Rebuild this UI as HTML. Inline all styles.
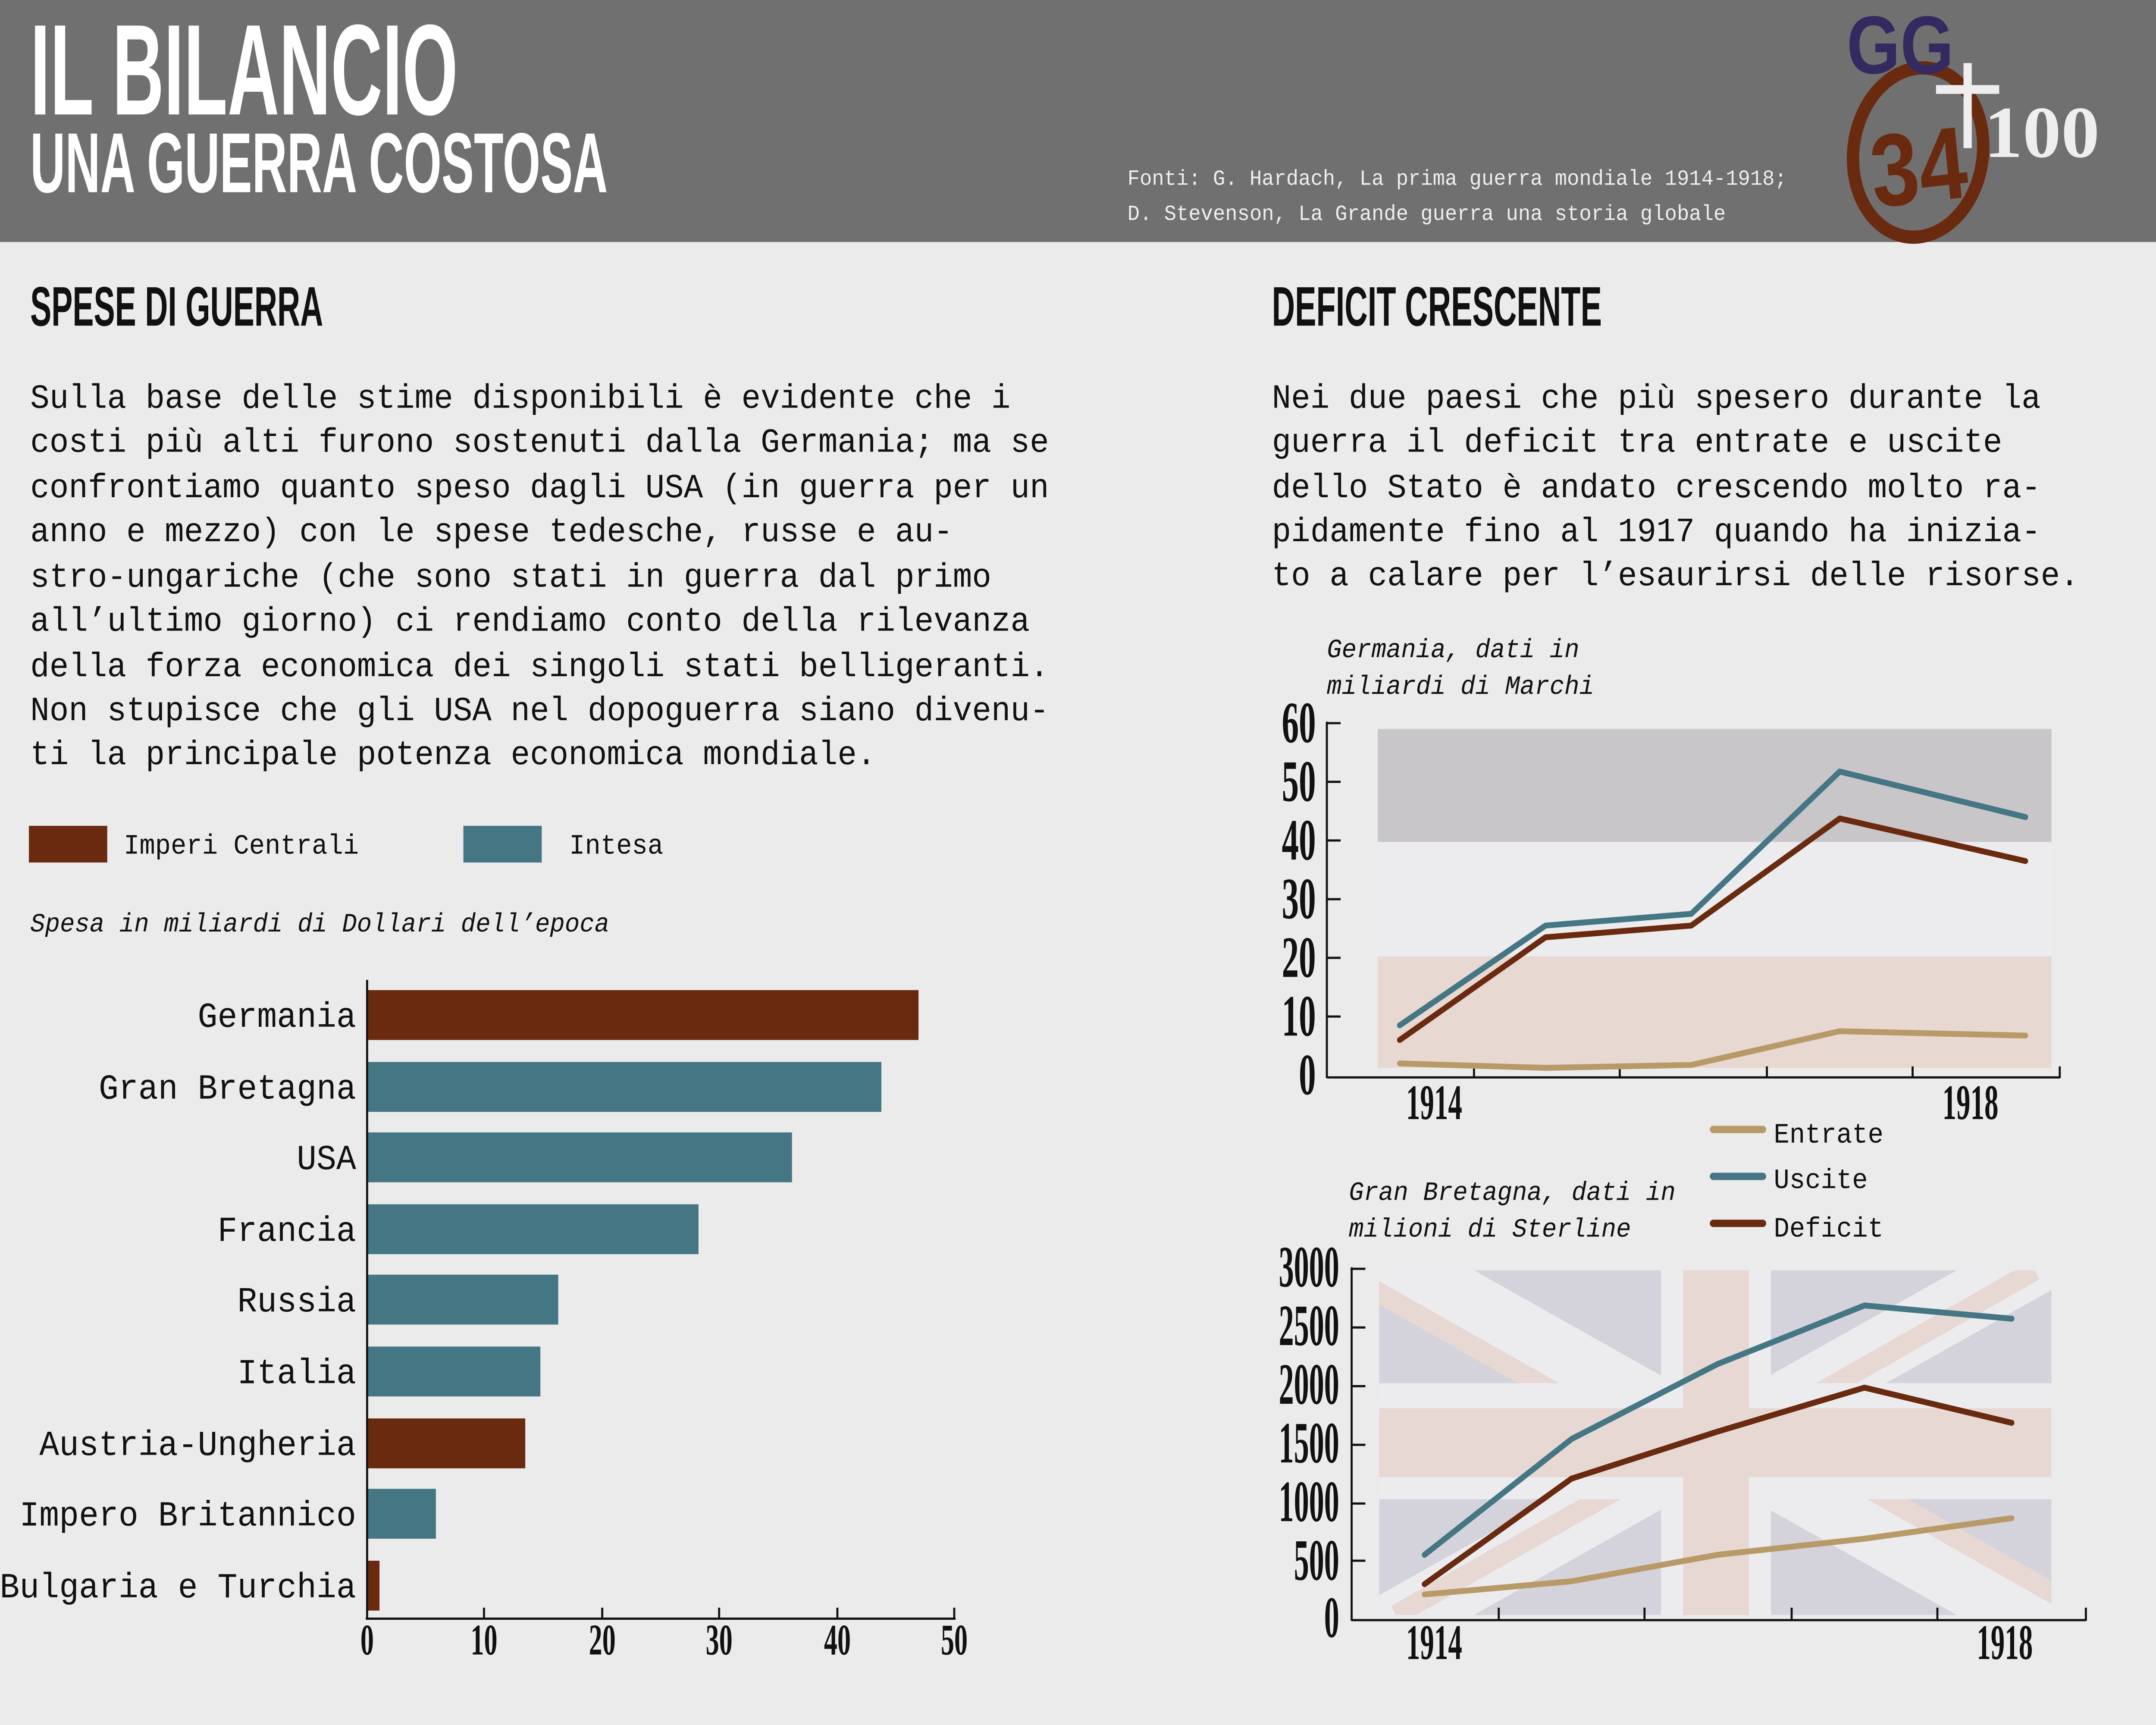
<!DOCTYPE html>
<html><head><meta charset="utf-8"><style>
html,body{margin:0;padding:0;background:#ebebeb;width:100vw;height:100vh;overflow:hidden;}
svg{display:block;position:absolute;left:0;top:0;width:100vw;height:100vh;}
.m{font-family:"Liberation Mono",monospace;}
.n{font-family:"Liberation Serif",serif;font-weight:bold;}
.h{font-family:"Liberation Sans Narrow","Liberation Sans",sans-serif;font-weight:bold;}
</style></head><body>
<svg viewBox="0 0 1568 1176" preserveAspectRatio="none" xmlns="http://www.w3.org/2000/svg">
<rect width="1568" height="1176" fill="#ebebeb"/>
<rect width="1568" height="165" fill="#707070"/>
<text class="h" x="22" y="78" font-size="88" fill="#fff" textLength="311" lengthAdjust="spacingAndGlyphs">IL BILANCIO</text>
<text class="h" x="22" y="131" font-size="58" fill="#fff" textLength="420" lengthAdjust="spacingAndGlyphs">UNA GUERRA COSTOSA</text>
<text class="m" x="820" y="126" font-size="14.8" fill="#eee">Fonti: G. Hardach, La prima guerra mondiale 1914-1918;</text>
<text class="m" x="820" y="150" font-size="14.8" fill="#eee">D. Stevenson, La Grande guerra una storia globale</text>
<!-- logo -->
<ellipse cx="1395" cy="104" rx="47" ry="58" fill="none" stroke="#6a2a10" stroke-width="9" transform="rotate(10 1395 104)"/>
<text class="h" x="1343" y="50" font-size="56" fill="#352a60" textLength="78" lengthAdjust="spacingAndGlyphs">GG</text>
<text class="h" x="1360" y="138" font-size="70" fill="#6a2a10" textLength="70" lengthAdjust="spacingAndGlyphs" transform="rotate(-6 1395 110)">34</text>
<rect x="1408" y="58" width="46" height="6" fill="#eee"/>
<rect x="1428" y="43" width="6" height="58" fill="#eee"/>
<text class="n" x="1443" y="107" font-size="50" fill="#eee" textLength="84" lengthAdjust="spacingAndGlyphs">100</text>

<text class="h" x="22" y="222" font-size="38" fill="#111" textLength="213" lengthAdjust="spacingAndGlyphs">SPESE DI GUERRA</text>
<text class="h" x="925" y="222" font-size="38" fill="#111" textLength="240" lengthAdjust="spacingAndGlyphs">DEFICIT CRESCENTE</text>

<g class="m" font-size="23.3" fill="#111">
<text x="22" y="278">Sulla base delle stime disponibili è evidente che i</text>
<text x="22" y="308">costi più alti furono sostenuti dalla Germania; ma se</text>
<text x="22" y="339">confrontiamo quanto speso dagli USA (in guerra per un</text>
<text x="22" y="369">anno e mezzo) con le spese tedesche, russe e au-</text>
<text x="22" y="400">stro-ungariche (che sono stati in guerra dal primo</text>
<text x="22" y="430">all’ultimo giorno) ci rendiamo conto della rilevanza</text>
<text x="22" y="461">della forza economica dei singoli stati belligeranti.</text>
<text x="22" y="491">Non stupisce che gli USA nel dopoguerra siano divenu-</text>
<text x="22" y="521">ti la principale potenza economica mondiale.</text>
<text x="925" y="278">Nei due paesi che più spesero durante la</text>
<text x="925" y="308">guerra il deficit tra entrate e uscite</text>
<text x="925" y="339">dello Stato è andato crescendo molto ra-</text>
<text x="925" y="369">pidamente fino al 1917 quando ha inizia-</text>
<text x="925" y="399">to a calare per l’esaurirsi delle risorse.</text>
</g>

<rect x="21" y="563" width="57" height="25" fill="#6a2a10"/>
<text class="m" x="90" y="582" font-size="19" fill="#111">Imperi Centrali</text>
<rect x="337" y="563" width="57" height="25" fill="#447684"/>
<text class="m" x="414" y="582" font-size="19" fill="#111">Intesa</text>
<text class="m" x="22" y="635" font-size="18" font-style="italic" fill="#111">Spesa in miliardi di Dollari dell’epoca</text>

<!-- bar chart -->
<g>
<rect x="267" y="675" width="401" height="34" fill="#6a2a10"/>
<rect x="267" y="724" width="374" height="34" fill="#447684"/>
<rect x="267" y="772" width="309" height="34" fill="#447684"/>
<rect x="267" y="821" width="241" height="34" fill="#447684"/>
<rect x="267" y="869" width="139" height="34" fill="#447684"/>
<rect x="267" y="918" width="126" height="34" fill="#447684"/>
<rect x="267" y="967" width="115" height="34" fill="#6a2a10"/>
<rect x="267" y="1015" width="50" height="34" fill="#447684"/>
<rect x="267" y="1064" width="9" height="34" fill="#6a2a10"/>
<line x1="267" y1="668" x2="267" y2="1104" stroke="#111" stroke-width="1.5"/>
<line x1="266" y1="1103.5" x2="695" y2="1103.5" stroke="#111" stroke-width="1.5"/>
<g stroke="#111" stroke-width="1.5">
<line x1="352" y1="1096" x2="352" y2="1104"/><line x1="438" y1="1096" x2="438" y2="1104"/><line x1="523" y1="1096" x2="523" y2="1104"/><line x1="609" y1="1096" x2="609" y2="1104"/><line x1="694" y1="1096" x2="694" y2="1104"/>
</g>
<g class="m" font-size="24" fill="#111" text-anchor="end">
<text x="259" y="700">Germania</text><text x="259" y="749">Gran Bretagna</text><text x="259" y="797">USA</text><text x="259" y="846">Francia</text><text x="259" y="894">Russia</text><text x="259" y="943">Italia</text><text x="259" y="992">Austria-Ungheria</text><text x="259" y="1040">Impero Britannico</text><text x="259" y="1089">Bulgaria e Turchia</text>
</g>
<g class="n" font-size="30" fill="#111" text-anchor="middle">
<text transform="translate(267,1128) scale(0.65,1)">0</text>
<text transform="translate(352,1128) scale(0.65,1)">10</text>
<text transform="translate(438,1128) scale(0.65,1)">20</text>
<text transform="translate(523,1128) scale(0.65,1)">30</text>
<text transform="translate(609,1128) scale(0.65,1)">40</text>
<text transform="translate(694,1128) scale(0.65,1)">50</text>
</g>
</g>

<!-- Germany chart -->
<text class="m" x="965" y="448" font-size="18" font-style="italic" fill="#111">Germania, dati in</text>
<text class="m" x="965" y="473" font-size="18" font-style="italic" fill="#111">miliardi di Marchi</text>
<rect x="1002" y="497" width="490" height="77" fill="#c8c6c9"/>
<rect x="1002" y="574" width="490" height="78" fill="#ececee"/>
<rect x="1002" y="652" width="490" height="76" fill="#e8d8d2"/>
<line x1="965" y1="492" x2="965" y2="735" stroke="#111" stroke-width="1.5"/>
<line x1="965" y1="734.5" x2="1498" y2="734.5" stroke="#111" stroke-width="1.5"/>
<g stroke="#111" stroke-width="1.5">
<line x1="965" y1="493" x2="975" y2="493"/><line x1="965" y1="533" x2="975" y2="533"/><line x1="965" y1="573" x2="975" y2="573"/><line x1="965" y1="613" x2="975" y2="613"/><line x1="965" y1="653" x2="975" y2="653"/><line x1="965" y1="693" x2="975" y2="693"/>
<line x1="1072" y1="727" x2="1072" y2="735"/><line x1="1178" y1="727" x2="1178" y2="735"/><line x1="1285" y1="727" x2="1285" y2="735"/><line x1="1391" y1="727" x2="1391" y2="735"/><line x1="1498" y1="727" x2="1498" y2="735"/>
</g>
<g class="n" font-size="40" fill="#111" text-anchor="end">
<text transform="translate(957,506) scale(0.62,1)">60</text>
<text transform="translate(957,546) scale(0.62,1)">50</text>
<text transform="translate(957,586) scale(0.62,1)">40</text>
<text transform="translate(957,626) scale(0.62,1)">30</text>
<text transform="translate(957,666) scale(0.62,1)">20</text>
<text transform="translate(957,706) scale(0.62,1)">10</text>
<text transform="translate(957,746) scale(0.62,1)">0</text>
</g>
<g class="n" font-size="34" fill="#111" text-anchor="middle">
<text transform="translate(1043,763) scale(0.6,1)">1914</text>
<text transform="translate(1433,763) scale(0.6,1)">1918</text>
</g>
<g fill="none" stroke-width="4" stroke-linejoin="round" stroke-linecap="round">
<polyline points="1018,725 1124,728 1230,726 1338,703 1473,706" stroke="#b89a68"/>
<polyline points="1018,709 1124,639 1230,631 1338,558 1473,587" stroke="#6a2a10"/>
<polyline points="1018,699 1124,631 1230,623 1338,526 1473,557" stroke="#447684"/>
</g>

<!-- legend -->
<g stroke-width="5" stroke-linecap="round">
<line x1="1246" y1="770" x2="1282" y2="770" stroke="#b89a68"/>
<line x1="1246" y1="802" x2="1282" y2="802" stroke="#447684"/>
<line x1="1246" y1="834" x2="1282" y2="834" stroke="#6a2a10"/>
</g>
<g class="m" font-size="19" fill="#111">
<text x="1290" y="779">Entrate</text><text x="1290" y="810">Uscite</text><text x="1290" y="843">Deficit</text>
</g>

<!-- GB chart -->
<text class="m" x="981" y="818" font-size="18" font-style="italic" fill="#111">Gran Bretagna, dati in</text>
<text class="m" x="981" y="843" font-size="18" font-style="italic" fill="#111">milioni di Sterline</text>
<defs><clipPath id="fl"><rect x="1003" y="866" width="489" height="235"/></clipPath></defs>
<g clip-path="url(#fl)">
<rect x="1003" y="866" width="489" height="235" fill="#d4d3dc"/>
<g stroke="#ececee" stroke-width="44">
<line x1="983" y1="844" x2="1512" y2="1123"/><line x1="983" y1="1123" x2="1512" y2="844"/>
</g>
<g stroke="#e7d8d4" stroke-width="14">
<line x1="1003" y1="875" x2="1248" y2="1005" transform="translate(-12,0)"/>
<line x1="1248" y1="962" x2="1492" y2="1092" transform="translate(12,0)"/>
<line x1="1003" y1="1101" x2="1248" y2="971" transform="translate(12,0)"/>
<line x1="1248" y1="996" x2="1492" y2="866" transform="translate(-12,0)"/>
</g>
<rect x="1208" y="866" width="80" height="235" fill="#ececee"/>
<rect x="1003" y="943" width="489" height="79" fill="#ececee"/>
<rect x="1224" y="866" width="48" height="235" fill="#e7d8d4"/>
<rect x="1003" y="960" width="489" height="47" fill="#e7d8d4"/>
</g>
<line x1="983" y1="864" x2="983" y2="1105" stroke="#111" stroke-width="1.5"/>
<line x1="983" y1="1104.5" x2="1517" y2="1104.5" stroke="#111" stroke-width="1.5"/>
<g stroke="#111" stroke-width="1.5">
<line x1="983" y1="865" x2="993" y2="865"/><line x1="983" y1="905" x2="993" y2="905"/><line x1="983" y1="945" x2="993" y2="945"/><line x1="983" y1="985" x2="993" y2="985"/><line x1="983" y1="1025" x2="993" y2="1025"/><line x1="983" y1="1064" x2="993" y2="1064"/>
<line x1="1090" y1="1096" x2="1090" y2="1105"/><line x1="1196" y1="1096" x2="1196" y2="1105"/><line x1="1303" y1="1096" x2="1303" y2="1105"/><line x1="1409" y1="1096" x2="1409" y2="1105"/><line x1="1517" y1="1096" x2="1517" y2="1105"/>
</g>
<g class="n" font-size="40" fill="#111" text-anchor="end">
<text transform="translate(974,877) scale(0.55,1)">3000</text>
<text transform="translate(974,917) scale(0.55,1)">2500</text>
<text transform="translate(974,957) scale(0.55,1)">2000</text>
<text transform="translate(974,997) scale(0.55,1)">1500</text>
<text transform="translate(974,1037) scale(0.55,1)">1000</text>
<text transform="translate(974,1077) scale(0.55,1)">500</text>
<text transform="translate(974,1116) scale(0.55,1)">0</text>
</g>
<g class="n" font-size="34" fill="#111" text-anchor="middle">
<text transform="translate(1043,1131) scale(0.6,1)">1914</text>
<text transform="translate(1458,1131) scale(0.6,1)">1918</text>
</g>
<g fill="none" stroke-width="4" stroke-linejoin="round" stroke-linecap="round">
<polyline points="1036,1087 1143,1078 1249,1060 1356,1049 1463,1035" stroke="#b89a68"/>
<polyline points="1036,1080 1143,1008 1249,976 1356,946 1463,970" stroke="#6a2a10"/>
<polyline points="1036,1060 1143,981 1249,930 1356,890 1463,899" stroke="#447684"/>
</g>
</svg>
</body></html>
